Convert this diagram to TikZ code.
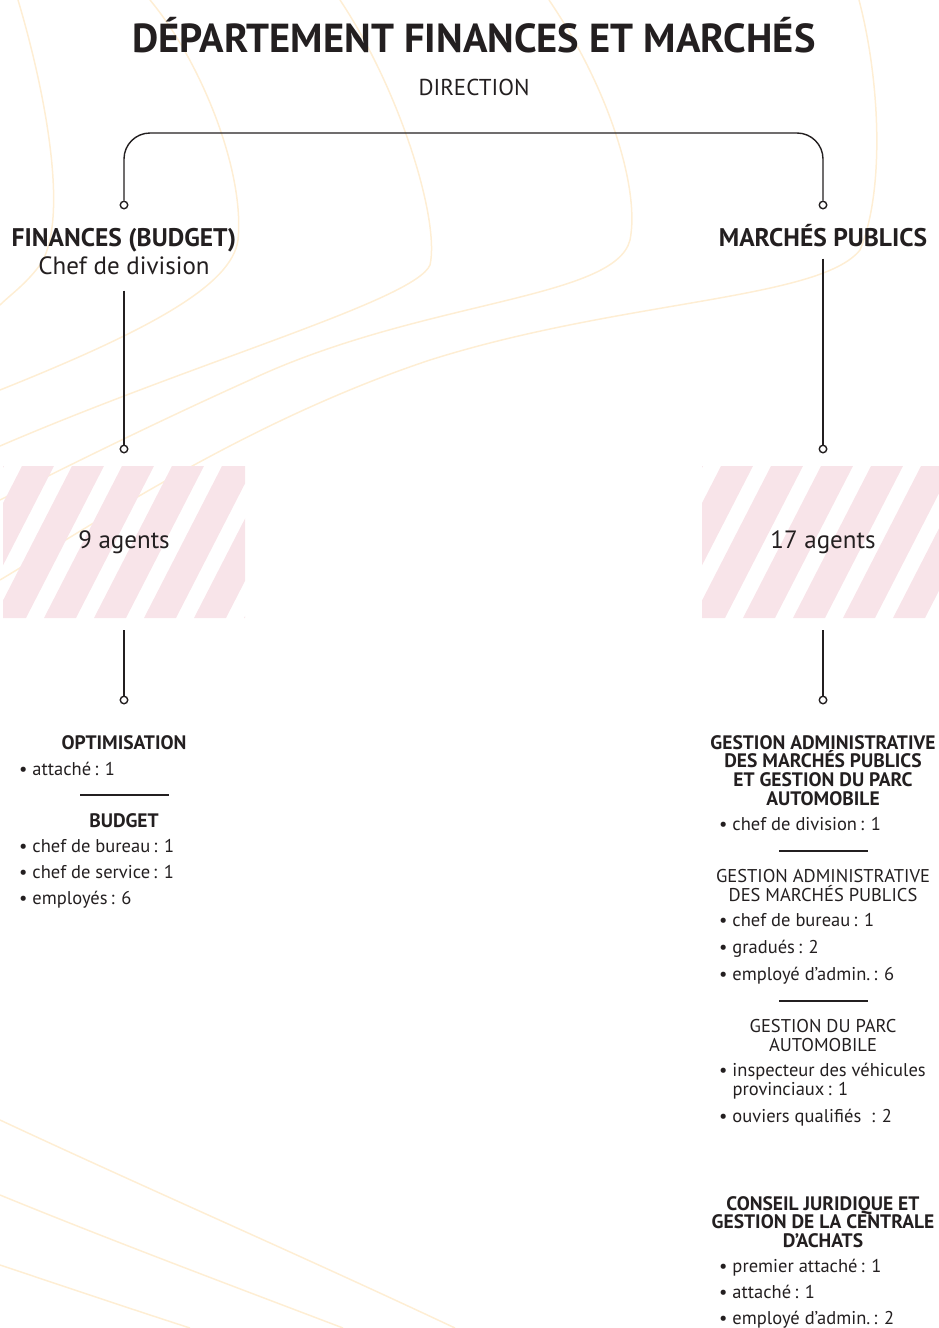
\documentclass[tikz,border=0pt]{standalone}
\usepackage{fontspec}
\setmainfont{PT Sans}
\usetikzlibrary{positioning,calc}
\definecolor{ink}{RGB}{35,31,32}
\definecolor{stripepink}{RGB}{248,228,233}
\definecolor{swirl}{RGB}{254,238,212}

\begin{document}
\begin{tikzpicture}[x=1pt, y=-1pt,
  link/.style={draw=ink, line width=1.4pt},
  knob/.style={circle, draw=ink, line width=1.4pt, fill=white, inner sep=0pt, minimum size=7.5pt},
  txt/.style={inner sep=0pt, text=ink, anchor=base},
  maintitle/.style={txt, font=\bfseries\fontsize{40.5}{44}\selectfont},
  dirtxt/.style={txt, font=\fontsize{23}{26}\selectfont},
  divhead/.style={txt, font=\bfseries\fontsize{25.5}{28}\selectfont},
  divsub/.style={txt, font=\fontsize{25}{28}\selectfont},
  counts/.style={inner sep=0pt, text=ink, minimum width=242pt, minimum height=152pt,
    font=\fontsize{25}{28}\selectfont,
    path picture={
      \foreach \o in {-152,-102,...,198}
        \fill[stripepink] ($(path picture bounding box.north)+(\o,0)$)
          -- ++(32,0) -- ++(-78,152) -- ++(-32,0) -- cycle;
    }},
  boldhead/.style={inner sep=0pt, text=ink, anchor=north, align=center,
    font=\bfseries\fontsize{19.5}{18.7}\selectfont},
  plainhead/.style={inner sep=0pt, text=ink, anchor=north, align=center,
    font=\fontsize{18.5}{19}\selectfont},
  entry/.style={inner sep=0pt, text=ink, anchor=base west, align=left,
    font=\fontsize{18.5}{18.5}\selectfont},
  seprule/.style={draw=ink, line width=2.4pt}
]
\useasboundingbox (0,0) rectangle (938,1328);

% =====================================================================
% Background swirls (pale orange contour lines)
% =====================================================================
\begin{scope}[swirl, line width=1.5pt]
  \draw (18,0) .. controls (45,90) and (70,220) .. (40,265) .. controls (25,285) and (10,295) .. (0,305);
  \draw (150,0) .. controls (200,60) and (245,170) .. (238,240)
        .. controls (232,285) and (150,330) .. (0,390);
  \draw (340,0) .. controls (400,90) and (440,220) .. (430,265)
        .. controls (415,300) and (200,360) .. (0,446);
  \draw (549,0) .. controls (610,90) and (640,190) .. (630,240)
        .. controls (615,300) and (420,300) .. (250,380) .. controls (150,425) and (60,470) .. (0,500);
  \draw (859,0) .. controls (880,80) and (885,190) .. (860,250)
        .. controls (820,300) and (620,300) .. (430,360) .. controls (250,420) and (100,520) .. (0,580);
  % lower left rays
  \draw (0,1120) .. controls (150,1190) and (300,1255) .. (455,1328);
  \draw (0,1195) .. controls (110,1240) and (230,1285) .. (343,1328);
  \draw (0,1265) .. controls (60,1285) and (125,1307) .. (190,1328);
\end{scope}

% =====================================================================
% Title and direction
% =====================================================================
\node[maintitle] (title) at (474,52) {DÉPARTEMENT FINANCES ET MARCHÉS};
\node[dirtxt] (direction) at (474,95) {DIRECTION};

% =====================================================================
% Two divisions
% =====================================================================
\node[knob] (fintop) at (124,205) {};
\node[knob] (martop) at (823,205) {};
\coordinate (dirjoin) at (474,133);
\draw[link, rounded corners=26pt] (fintop) |- (dirjoin) -| (martop);

\node[divhead] (finances) at (124,246) {FINANCES (BUDGET)};
\node[divsub]  (finchef)  at (124,274) {Chef de division};
\node[divhead] (marches)  at (823,246) {MARCHÉS PUBLICS};

\node[knob] (finmid) at (124,449) {};
\node[knob] (marmid) at (823,449) {};
\draw[link, shorten <=16pt] (finchef) -- (finmid);
\draw[link, shorten <=12pt] (marches) -- (marmid);

% striped head-count boxes
\node[counts] (fincount) at (124,542) {9 agents};
\node[counts] (marcount) at (823,542) {17 agents};

\node[knob] (finlow) at (124,700) {};
\node[knob] (marlow) at (823,700) {};
\draw[link, shorten <=12pt] (fincount) -- (finlow);
\draw[link, shorten <=12pt] (marcount) -- (marlow);

% =====================================================================
% Finances: services
% =====================================================================
\node[boldhead] (optim) at (124,735) {OPTIMISATION};
\node[entry] at (19,775) {• attaché\,: 1};
\draw[seprule] (80,795) -- (169,795);
\node[boldhead] (budget) at (124,813) {BUDGET};
\node[entry] at (19,852) {• chef de bureau\,: 1};
\node[entry] at (19,878) {• chef de service\,: 1};
\node[entry] at (19,904) {• employés\,: 6};

% =====================================================================
% Marchés publics: services
% =====================================================================
\node[boldhead] (gestadm) at (823,735) {GESTION ADMINISTRATIVE\\DES MARCHÉS PUBLICS\\ET GESTION DU PARC\\AUTOMOBILE};
\node[entry] at (719,830) {• chef de division\,: 1};
\draw[seprule] (779,851) -- (868,851);

\node[plainhead] (gamp) at (823,869) {GESTION ADMINISTRATIVE\\DES MARCHÉS PUBLICS};
\node[entry] at (719,926) {• chef de bureau\,: 1};
\node[entry] at (719,953) {• gradués\,: 2};
\node[entry] at (719,980) {• employé d’admin.\,: 6};
\draw[seprule] (779,1001) -- (868,1001);

\node[plainhead] (parc) at (823,1019) {GESTION DU PARC\\AUTOMOBILE};
\node[entry] at (719,1095) {• inspecteur des véhicules\\\phantom{• }provinciaux\,: 1};
\node[entry] at (719,1122) {• ouviers qualifiés~~: 2};

\node[boldhead] (conseil) at (823,1196) {CONSEIL JURIDIQUE ET\\GESTION DE LA CENTRALE\\D’ACHATS};
\node[entry] at (719,1272) {• premier attaché\,: 1};
\node[entry] at (719,1298) {• attaché\,: 1};
\node[entry] at (719,1324) {• employé d’admin.\,: 2};

\end{tikzpicture}
\end{document}
